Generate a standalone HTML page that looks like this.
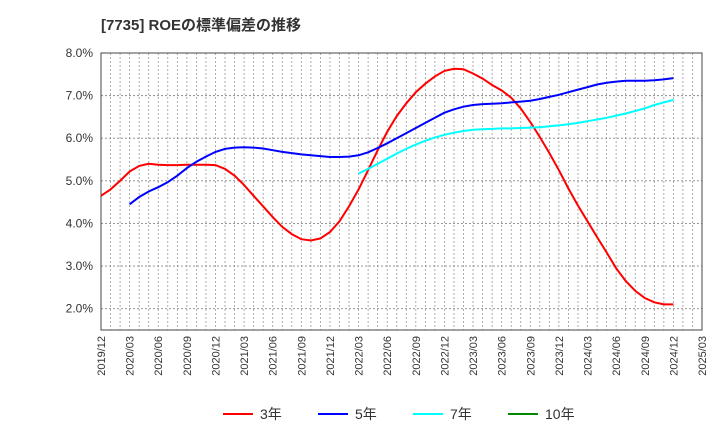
<!DOCTYPE html>
<html><head><meta charset="utf-8"><style>
body{margin:0;background:#fff;width:720px;height:440px;overflow:hidden}
svg text{font-family:"Liberation Sans","Noto Sans CJK JP",sans-serif}
</style></head><body>
<svg id="c" width="720" height="440">
<text x="101" y="30" font-size="15" font-weight="bold" fill="#333">[7735]  ROEの標準偏差の推移</text>
<g id="grid"></g><g id="axes"></g><g id="lines"></g>
<g id="legend"></g>
</svg>
<script>
const yTicks=[2,3,4,5,6,7,8];
const xLabels=["2019/12","2020/03","2020/06","2020/09","2020/12","2021/03","2021/06","2021/09","2021/12","2022/03","2022/06","2022/09","2022/12","2023/03","2023/06","2023/09","2023/12","2024/03","2024/06","2024/09","2024/12","2025/03"];
const s3=[4.65,4.8,5.0,5.22,5.35,5.4,5.38,5.37,5.37,5.38,5.38,5.38,5.37,5.28,5.12,4.9,4.65,4.4,4.15,3.92,3.75,3.63,3.6,3.65,3.8,4.05,4.4,4.8,5.25,5.72,6.15,6.52,6.82,7.08,7.28,7.45,7.58,7.63,7.62,7.52,7.4,7.25,7.12,6.95,6.7,6.38,6.03,5.65,5.25,4.82,4.42,4.05,3.68,3.32,2.95,2.65,2.42,2.25,2.15,2.1,2.1];
const s5start=3;
const s5=[4.45,4.62,4.75,4.85,4.97,5.12,5.3,5.45,5.57,5.68,5.75,5.78,5.79,5.78,5.76,5.72,5.68,5.65,5.62,5.6,5.58,5.56,5.56,5.57,5.6,5.67,5.77,5.88,6.0,6.12,6.24,6.36,6.48,6.6,6.68,6.74,6.78,6.8,6.81,6.82,6.84,6.86,6.88,6.92,6.97,7.02,7.08,7.14,7.2,7.26,7.3,7.33,7.35,7.35,7.35,7.36,7.38,7.41];
const s7start=27;
const s7=[5.17,5.28,5.4,5.52,5.64,5.75,5.85,5.94,6.02,6.08,6.13,6.17,6.2,6.21,6.22,6.23,6.23,6.24,6.25,6.26,6.28,6.3,6.33,6.36,6.4,6.44,6.48,6.53,6.58,6.64,6.7,6.78,6.84,6.9];
const L=101,R=702,T=53,B=330,yMin=1.5,yMax=8,nMonths=63;
const X=m=>L+m*(R-L)/nMonths, Y=v=>T+(yMax-v)*(B-T)/(yMax-yMin);
const NS="http://www.w3.org/2000/svg";
function mk(t,a,p){const e=document.createElementNS(NS,t);for(const k in a)e.setAttribute(k,a[k]);p.appendChild(e);return e;}
const grid=document.getElementById('grid'),axes=document.getElementById('axes'),lines=document.getElementById('lines'),leg=document.getElementById('legend');
for(let m=1;m<nMonths;m++){const l=mk('line',{x1:X(m),x2:X(m),y1:T,y2:B,stroke:'#999','stroke-dasharray':'2,2','stroke-width':0.8},grid);

}
yTicks.forEach(v=>{const l=mk('line',{x1:L,x2:R,y1:Y(v),y2:Y(v),stroke:'#888','stroke-dasharray':'2,2','stroke-width':0.9},grid);


const t=mk('text',{x:L-8,y:Y(v)+4,'text-anchor':'end','font-size':12,fill:'#333'},axes);t.textContent=v.toFixed(1)+'%';

});
const fr=mk('rect',{x:L,y:T,width:R-L,height:B-T,fill:'none',stroke:'#444','stroke-width':1},axes);


xLabels.forEach((s,i)=>{const x=X(i*3);const t=mk('text',{x:0,y:0,transform:`translate(${x+4},${B+6}) rotate(-90)`,'text-anchor':'end','font-size':11,fill:'#333'},axes);t.textContent=s;

});
function series(arr,start,color,name){const d=arr.map((v,i)=>(i?'L':'M')+X(start+i).toFixed(1)+','+Y(v).toFixed(1)).join('');
const p=mk('path',{d,fill:'none',stroke:color,'stroke-width':2},lines);

}
series(s3,0,'#f00','series-3y');
series(s5,s5start,'#00f','series-5y');
series(s7,s7start,'#0ff','series-7y');
const legItems=[['3年','#f00',223],['5年','#00f',318],['7年','#0ff',413],['10年','#080',508]];
legItems.forEach(([n,c,x])=>{const g=mk('g',{},leg);


mk('line',{x1:x,x2:x+30,y1:414,y2:414,stroke:c,'stroke-width':2},g);
const t=mk('text',{x:x+37,y:419,'font-size':14,fill:'#333'},g);t.textContent=n;});
</script>
</body></html>
